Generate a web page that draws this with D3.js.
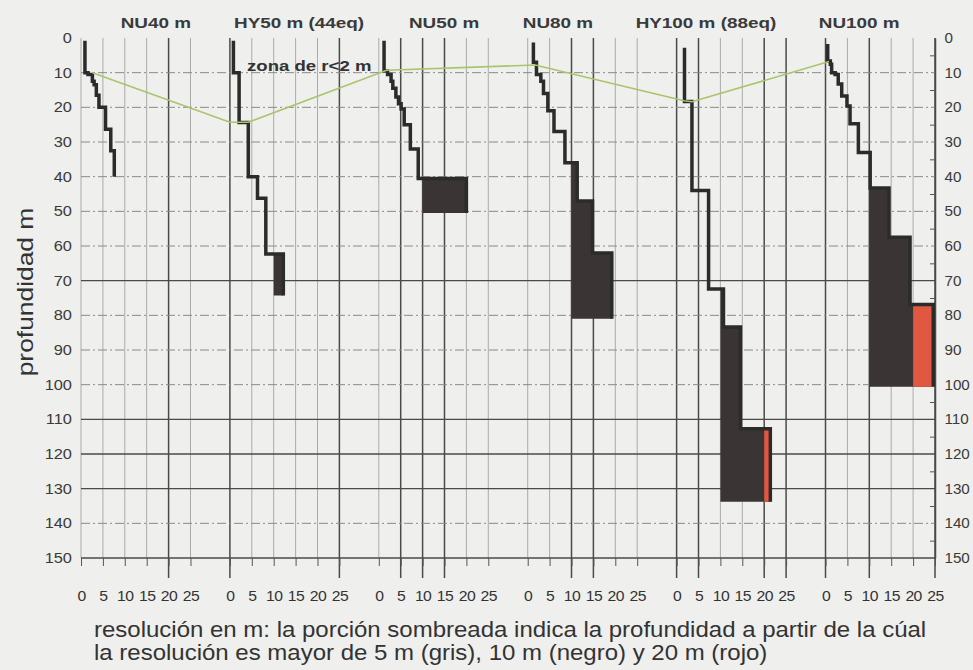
<!DOCTYPE html>
<html>
<head>
<meta charset="utf-8">
<script src="https://cdn.jsdelivr.net/npm/d3@7"></script>
<style>
   body { margin: 0; background: #efefed; }
   svg { display: block; font-family: "Liberation Sans", Arial, sans-serif; }
</style>
</head>
<body>
<svg id="chart" width="973" height="670"></svg>
<script>

// PANEL TITLES
var panels = ['NU40 m', 'HY50 m (44eq)', 'NU50 m', 'NU80 m', 'HY100 m (88eq)', 'NU100 m'];

// RESOLUTION STEPS: DEPTH WHERE A STEP STARTS (m) AND RESOLUTION FROM THERE (m)
var depthNU40  = [0.8, 10, 10.5, 12.5, 13.5, 16.5, 20, 26.3, 32.5, 40];
var resNU40    = [0.9, 1.6, 2.6, 3.0, 3.5, 4.1, 5.6, 6.8, 7.6, 7.6];

var depthHY50  = [0.8, 10, 24.4, 40, 46.2, 62.3, 74.3];
var resHY50    = [0.8, 2.1, 4.2, 6.3, 8.2, 12.2, 12.2];

var depthNU50  = [0.8, 9.5, 10.5, 12.5, 14.5, 17, 19, 20.5, 25, 32, 40.5, 50.5];
var resNU50    = [1.2, 2.0, 2.8, 3.2, 3.9, 4.5, 5.1, 5.8, 7.2, 9.0, 20, 20];

var depthNU80  = [1.3, 7, 10.5, 12.5, 16, 21, 27, 36, 47, 62, 81];
var resNU80    = [1.3, 2.0, 3.0, 3.6, 4.6, 6.0, 8.5, 11.3, 14.8, 19.2, 19.2];

var depthHY100 = [2.8, 18.3, 44, 72.4, 83.4, 112.7, 133.8];
var resHY100   = [1.8, 3.5, 7.3, 10.7, 14.6, 21.4, 21.4];

var depthNU100 = [1.7, 6.6, 7.6, 10, 10.5, 13.3, 16.7, 19.6, 24.7, 33, 43.3, 57.5, 76.9, 100.6];
var resNU100   = [0.5, 1.1, 1.4, 2.2, 2.9, 3.7, 4.9, 5.6, 7.5, 10.2, 14.5, 19.3, 24.6, 24.6];

var depths = [depthNU40, depthHY50, depthNU50, depthNU80, depthHY100, depthNU100];
var resolutions = [resNU40, resHY50, resNU50, resNU80, resHY100, resNU100];

// LINE OF THE ZONE r<2 m (PANEL INDEX, RESOLUTION, DEPTH)
var zonePanel = [0, 1, 1, 2, 3, 4, 4, 5];
var zoneRes   = [2.6, 0, 4.2, 1.8, 1.7, 1.7, 3.5, 0.8];
var zoneDepth = [10, 24.3, 24.3, 9.3, 7.8, 18.1, 18.4, 6.8];

// TICKS
var depthTicks = d3.range(0, 151, 10);
var resTicks = [0, 5, 10, 15, 20, 25];

// GRID LINES PRINTED DARKER IN THE ORIGINAL
var darkRes = [[20], [0, 25], [5, 10, 15], [10, 15], [0, 5, 20, 25], [0, 10, 25]];
var darkDepth = [70, 110, 120, 130];

// LAYOUT
var panelStep = 34;
var titleOffset = [17.1, 15.8, 14.9, 6.9, 6.7, 7.7];
var FONT = '"Liberation Sans", Arial, sans-serif';

var svg = d3.select('#chart');

// SCALES
var x = d3.scaleLinear().domain([0, panelStep * 5 + 25]).range([81, 935]);
var y = d3.scaleLinear().domain([0, 150]).range([38, 558]);
function px(panel, r) { return x(panel * panelStep + r); }

// TEXT STRETCHED SIDEWAYS LIKE THE SCANNED ORIGINAL
function stretched(tx, ty, sx, size, txt) {
   return svg.append('text')
      .attr('transform', 'translate(' + tx + ',' + ty + ') scale(' + sx + ',1)')
      .attr('font-size', size)
      .attr('fill', '#333')
      .text(txt)
}

// VERTICAL GRID
panels.forEach((p, i) => {
   svg.append('g').selectAll('line')
      .data(resTicks)
      .enter().append('line')
         .attr('x1', r => px(i, r)).attr('x2', r => px(i, r))
         .attr('y1', y(0)).attr('y2', r => darkRes[i].includes(r) ? 578 : 558)
         .attr('stroke', r => darkRes[i].includes(r) ? '#4a4a4a' : '#ababab')
         .attr('stroke-width', r => darkRes[i].includes(r) ? 1.5 : 1)
});

// HORIZONTAL GRID
svg.append('g').selectAll('line')
   .data(depthTicks.filter(d => d > 0 && d < 150))
   .enter().append('line')
      .attr('x1', x(0)).attr('x2', x.range()[1])
      .attr('y1', d => y(d)).attr('y2', d => y(d))
      .attr('stroke', d => darkDepth.includes(d) ? '#4a4a4a' : '#8a8a8a')
      .attr('stroke-width', d => darkDepth.includes(d) ? 1.4 : 1)
      .attr('stroke-dasharray', d => darkDepth.includes(d) ? null : '9 3 2 3')

// BOTTOM LINE
svg.append('line')
   .attr('x1', x(0)).attr('x2', x.range()[1])
   .attr('y1', y(150)).attr('y2', y(150))
   .attr('stroke', '#4a4a4a').attr('stroke-width', 1.5)

// BOTTOM AXES, ONE PER PANEL
panels.forEach((p, i) => {
   var xs = d3.scaleLinear().domain([0, 25]).range([px(i, 0), px(i, 25)]);
   var ax = svg.append('g')
      .attr('transform', 'translate(0,' + y(150) + ')')
      .call(d3.axisBottom(xs).tickValues(resTicks).tickSize(8).tickPadding(24))
   ax.select('.domain').remove();
   ax.selectAll('line').attr('stroke', '#555');
   ax.selectAll('text')
      .attr('font-size', 15).attr('fill', '#333')
      .attr('font-family', FONT)
      .attr('letter-spacing', -0.5)
      .attr('transform', 'scale(1.05,1)')
});

// LEFT AXIS LABELS
var left = svg.append('g')
   .attr('transform', 'translate(' + x(0) + ',0)')
   .call(d3.axisLeft(y).tickValues(depthTicks).tickSize(0).tickPadding(8))
left.select('.domain').remove();
left.selectAll('text').attr('font-size', 14.5).attr('fill', '#3a3a3a')
   .attr('font-family', FONT).attr('transform', 'scale(1.13,1)');

// RIGHT AXIS
var right = svg.append('g')
   .attr('transform', 'translate(' + x.range()[1] + ',0)')
   .call(d3.axisRight(y).tickValues(depthTicks).tickSize(0).tickPadding(9))
right.select('.domain').attr('stroke', '#4a4a4a').attr('stroke-width', 1.5);
right.selectAll('text').attr('font-size', 14.5).attr('fill', '#3a3a3a')
   .attr('font-family', FONT).attr('transform', 'scale(1.05,1)');

svg.append('g')
   .attr('transform', 'translate(' + x.range()[1] + ',0)')
   .call(d3.axisLeft(y).tickValues(d3.range(5, 150, 10)).tickSize(5).tickFormat(''))
   .call(g => g.select('.domain').remove())
   .selectAll('line').attr('stroke', '#555');

// SHADED AREAS AND STEP LINES
var fill10 = d3.area()
   .curve(d3.curveStepBefore)
   .y(d => y(d.d))
   .x0(d => px(d.p, 10))
   .x1(d => px(d.p, Math.max(d.r, 10)))

var fill20 = d3.area()
   .curve(d3.curveStepBefore)
   .y(d => y(d.d))
   .x0(d => px(d.p, 20))
   .x1(d => px(d.p, Math.max(d.r, 20)))

var step = d3.line()
   .curve(d3.curveStepBefore)
   .x(d => px(d.p, d.r))
   .y(d => y(d.d))

panels.forEach((p, i) => {
   var pts = depths[i].map((d, k) => ({ p: i, d: d, r: resolutions[i][k] }));

   svg.append('path').attr('d', fill10(pts)).attr('fill', '#3a3434');
   svg.append('path').attr('d', fill20(pts)).attr('fill', '#e0583f');
   svg.append('path').attr('d', step(pts))
      .attr('fill', 'none')
      .attr('stroke', '#2b2b2b')
      .attr('stroke-width', 3.5)
});

// ZONE r<2 m
var zonePts = zonePanel.map((p, k) => ({ p: p, r: zoneRes[k], d: zoneDepth[k] }));
svg.append('path')
   .attr('d', d3.line().x(d => px(d.p, d.r)).y(d => y(d.d))(zonePts))
   .attr('fill', 'none')
   .attr('stroke', '#a9c46c')
   .attr('stroke-width', 1.6)

stretched(247, 71, 1.24, 15, 'zona de r<2 m').attr('font-weight', 'bold');

// PANEL TITLES
panels.forEach((p, i) => {
   stretched(px(i, titleOffset[i]), 28, 1.22, 15.5, p)
      .attr('text-anchor', 'middle')
      .attr('font-weight', 'bold')
      .attr('fill', '#3a3a3a')
});

// Y LABEL
svg.append('text')
   .attr('transform', 'translate(25,292) rotate(-90) scale(1.2,1)')
   .attr('text-anchor', 'middle')
   .attr('dominant-baseline', 'central')
   .attr('font-size', 22).attr('fill', '#333')
   .text('profundidad m')

// CAPTION
stretched(94, 637, 1.067, 22.5, 'resolución en m: la porción sombreada indica la profundidad a partir de la cúal');
stretched(94, 660, 1.067, 22.5, 'la resolución es mayor de 5 m (gris), 10 m (negro) y 20 m (rojo)');

</script>
</body>
</html>
